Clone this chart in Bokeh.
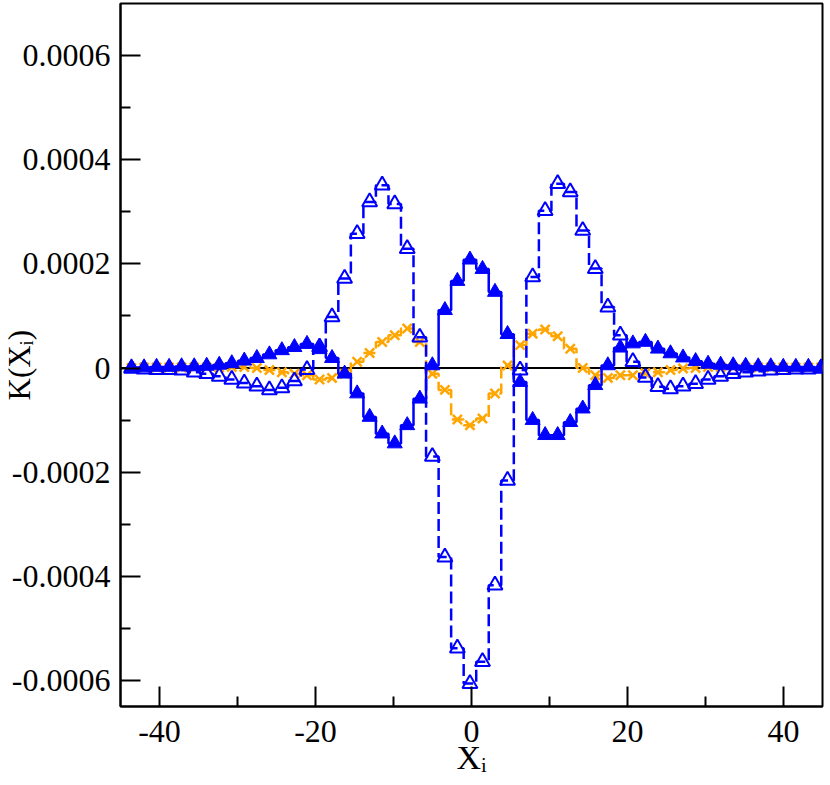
import numpy as np
from bokeh.plotting import figure
from bokeh.models import (FixedTicker, CustomJSTickFormatter, Span, Title,
                          Range1d, ColumnDataSource)
from bokeh.embed import file_html
from bokeh.resources import INLINE

# ---------------- data ----------------
x_i = [-43.59, -41.98, -40.38, -38.77, -37.17, -35.55, -33.95, -32.34, -30.73,
       -29.13, -27.52, -25.91, -24.31, -22.70, -21.09, -19.48, -17.88, -16.27,
       -14.66, -13.06, -11.45, -9.84, -8.24, -6.63, -5.02, -3.41, -1.81, -0.20,
       1.41, 3.01, 4.62, 6.23, 7.84, 9.44, 11.05, 12.66, 14.26, 15.87, 17.48,
       19.08, 20.69, 22.30, 23.90, 25.51, 27.12, 28.73, 30.33, 31.94, 33.55,
       35.15, 36.76, 38.37, 39.97, 41.58, 43.19, 44.80]

k_filled = [1e-6, 1e-6, 2e-6, 2e-6, 3e-6, 3e-6, 4e-6, 6e-6, 9e-6,
            1.4e-5, 1.9e-5, 2.6e-5, 3.4e-5, 4.0e-5, 4.6e-5, 3.6e-5, 1.9e-5, -1.1e-5,
            -4.9e-5, -9.4e-5, -1.26e-4, -1.45e-4, -1.10e-4, -5.9e-5, 5e-6, 1.11e-4,
            1.67e-4, 2.08e-4,
            1.90e-4, 1.46e-4, 6.5e-5, -2.7e-5, -1.0e-4, -1.29e-4, -1.29e-4, -1.04e-4,
            -7.8e-5, -3.3e-5, 5e-6, 3.9e-5, 4.7e-5, 5.0e-5, 3.7e-5, 2.8e-5, 2.0e-5,
            1.3e-5, 8e-6, 6e-6, 5e-6, 4e-6, 3e-6, 3e-6, 2e-6, 2e-6, 2e-6, 1e-6]

k_open = [-1e-6, -2e-6, -3e-6, -3e-6, -4e-6, -8e-6, -1.1e-5, -1.6e-5, -2.2e-5,
          -2.9e-5, -3.5e-5, -4.2e-5, -3.8e-5, -2.5e-5, -3e-6, 4.0e-5, 9.8e-5, 1.72e-4,
          2.58e-4, 3.19e-4, 3.51e-4, 3.15e-4, 2.29e-4, 5.9e-5, -1.70e-4, -3.63e-4,
          -5.38e-4, -6.06e-4,
          -5.64e-4, -4.17e-4, -2.16e-4, -4e-6, 1.75e-4, 3.02e-4, 3.54e-4, 3.38e-4,
          2.64e-4, 1.91e-4, 1.17e-4, 6.3e-5, 1.2e-5, -1.8e-5, -3.6e-5, -4.0e-5,
          -3.5e-5, -3.0e-5, -2.2e-5, -1.6e-5, -1.1e-5, -8e-6, -6e-6, -4e-6, -3e-6,
          -2e-6, -2e-6, -1e-6]

k_cross = [0.0, 1e-6, 1e-6, 1e-6, 1e-6, 1e-6, 1e-6, 1e-6, 2e-6,
           2e-6, 0.0, -4e-6, -8e-6, -1.1e-5, -1.4e-5, -2.2e-5, -1.9e-5, -1.1e-5,
           1.2e-5, 2.9e-5, 5.0e-5, 6.3e-5, 7.6e-5, 5.0e-5, -1.1e-5, -4.2e-5,
           -9.9e-5, -1.10e-4,
           -9.7e-5, -4.9e-5, 5e-6, 4.4e-5, 6.6e-5, 7.4e-5, 6.1e-5, 3.7e-5,
           0.0, -1.4e-5, -1.9e-5, -1.4e-5, -1.4e-5, -1.0e-5, -8e-6, -4e-6, -1e-6,
           0.0, 2e-6, 2e-6, 1e-6, 1e-6, 1e-6, 1e-6, 1e-6, 1e-6, 1e-6, 1e-6]

x_ticks = [-40, -20, 0, 20, 40]
x_minor = [-30, -10, 10, 30]
y_ticks = [-0.0006, -0.0004, -0.0002, 0.0, 0.0002, 0.0004, 0.0006]
y_minor = [-0.0005, -0.0003, -0.0001, 0.0001, 0.0003, 0.0005]

x_title = "X\u1d62"
y_title = "K(X\u1d62)"

src = ColumnDataSource(dict(x=x_i, a=k_filled, b=k_open, c=k_cross))

BLUE = "#0000ff"
ORANGE = "#ffa500"
FONT = "Liberation Serif"

p = figure(width=832, height=785,
           x_range=Range1d(-45, 45), y_range=Range1d(-0.00065, 0.0007),
           output_backend="svg", toolbar_location=None,
           min_border_left=128, min_border_right=2,
           min_border_top=3, min_border_bottom=79)
p.margin = (0, 0, 0, -8)
p.xgrid.visible = False
p.ygrid.visible = False
p.outline_line_color = "black"
p.outline_line_width = 2
p.background_fill_color = "white"
p.border_fill_color = "white"

for ax in (p.xaxis[0], p.yaxis[0]):
    ax.major_tick_in = 20
    ax.major_tick_out = 0
    ax.minor_tick_in = 10
    ax.minor_tick_out = 0
    ax.major_tick_line_width = 2
    ax.minor_tick_line_width = 2
    ax.major_tick_line_color = "black"
    ax.minor_tick_line_color = "black"
    ax.axis_line_width = 2
    ax.axis_line_color = "black"
    ax.major_label_text_font = FONT
    ax.major_label_text_font_size = "32px"
    ax.major_label_text_color = "black"
    ax.axis_label = None

p.xaxis.ticker = FixedTicker(ticks=x_ticks, minor_ticks=x_minor)
p.yaxis.ticker = FixedTicker(ticks=y_ticks, minor_ticks=y_minor)
p.xaxis.major_label_standoff = 14
p.yaxis.major_label_standoff = 10
p.xaxis.formatter = CustomJSTickFormatter(code="return tick.toFixed(0);")
p.yaxis.formatter = CustomJSTickFormatter(
    code="return Math.abs(tick) < 1e-12 ? '0' : tick.toFixed(4);")

# axis titles as side-panel titles (placed precisely)
p.add_layout(Title(text=x_title, align="center", vertical_align="top",
                   standoff=-12, text_font=FONT, text_font_size="34px",
                   text_font_style="normal", text_color="black"), "below")
p.add_layout(Title(text=y_title, align="left", offset=306,
                   vertical_align="bottom", standoff=-57, text_font=FONT,
                   text_font_size="31px", text_font_style="normal",
                   text_color="black"), "left")

# zero line
p.add_layout(Span(location=0, dimension="width", line_color="black",
                  line_width=2, level="underlay"))

# series
p.step("x", "c", source=src, mode="center", line_color=ORANGE, line_width=2.5,
       line_dash="12 5")
p.scatter("x", "c", source=src, marker="x", size=13, line_color=ORANGE,
          line_width=2.5)

p.step("x", "b", source=src, mode="center", line_color=BLUE, line_width=2.5,
       line_dash="12 5")
p.scatter("x", "b", source=src, marker="triangle", size=15, line_color=BLUE,
          fill_color=None, line_width=2)

p.step("x", "a", source=src, mode="center", line_color=BLUE, line_width=2.5)
p.scatter("x", "a", source=src, marker="triangle", size=15, line_color=BLUE,
          fill_color=BLUE, line_width=1)

open("out.html", "w").write(file_html(p, INLINE))
